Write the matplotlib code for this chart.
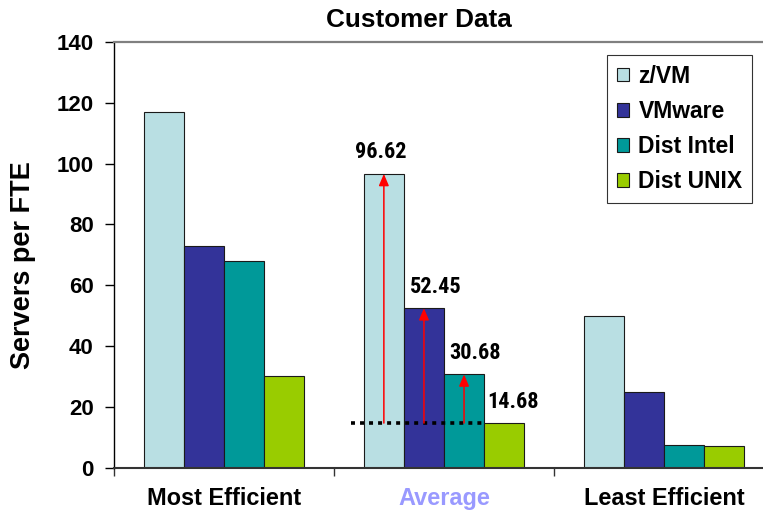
import matplotlib
matplotlib.use("Agg")
import matplotlib.pyplot as plt
from matplotlib.patches import FancyArrowPatch, Patch
from matplotlib import font_manager
import numpy as np

plt.rcParams['font.family'] = ['Liberation Sans', 'DejaVu Sans']
plt.rcParams['font.weight'] = 'bold'

categories = ["Most Efficient", "Average", "Least Efficient"]
series = ["z/VM", "VMware", "Dist Intel", "Dist UNIX"]
zvm = [117, 96.62, 50]
vmware = [73, 52.45, 25]
dist_intel = [68, 30.68, 7.5]
dist_unix = [30, 14.68, 7]
values = [zvm, vmware, dist_intel, dist_unix]
colors = ["#B9DFE3", "#333399", "#009999", "#99CC00"]
yticks = [0, 20, 40, 60, 80, 100, 120, 140]

# pick a condensed font for the value labels if one is installed
names = {f.name for f in font_manager.fontManager.ttflist}
narrow_fam = None
for cand in ["Liberation Sans Narrow", "DejaVu Sans Condensed", "Roboto Condensed",
             "Open Sans Condensed"]:
    if cand in names:
        narrow_fam = cand
        break

W, H = 763, 512
fig = plt.figure(figsize=(W / 100, H / 100), dpi=100)
ax = fig.add_axes([114 / W, 44.3 / H, 660 / W, 425.7 / H])

bw = 40 / 219.5
offsets = (np.arange(4) - 1.5) * bw
x = np.arange(len(categories))
for i, s in enumerate(series):
    ax.bar(x + offsets[i], values[i], width=bw, color=colors[i],
           edgecolor="#1a1a1a", linewidth=0.8, label=s, zorder=2)

ax.set_xlim(-0.5, 2.5)
ax.set_ylim(0, 140)
ax.set_yticks(yticks)
ax.set_yticklabels([str(v) for v in yticks], fontsize=16, fontweight='bold')
ax.set_xticks(x)
ax.set_xticklabels(categories, fontsize=16.9, fontweight='bold')
ax.get_xticklabels()[1].set_color("#9999FF")
ax.set_xticks([-0.5, 0.5, 1.5, 2.5], minor=True)
ax.tick_params(axis='x', which='major', length=0, pad=14)
ax.tick_params(axis='x', which='minor', length=6, width=1, color="#333333", direction='out')
ax.tick_params(axis='y', which='major', length=6.5, width=1, direction='out', pad=8)

ax.spines['right'].set_visible(False)
ax.spines['top'].set_color("#808080")
ax.spines['top'].set_linewidth(1.6)
ax.spines['bottom'].set_color("#333333")
ax.spines['bottom'].set_linewidth(1.5)
ax.spines['left'].set_color("black")
ax.spines['left'].set_linewidth(1.0)

# Average group annotations
avg = 1
base = dist_unix[avg]
ax.plot([avg - 0.425, avg + offsets[3] - bw / 2], [base, base], color="black",
        linewidth=2.6, linestyle=(0, (1.1, 1.4)), zorder=4)
for i in range(3):
    xc = avg + offsets[i]
    arr = FancyArrowPatch((xc, base), (xc, values[i][avg]),
                          arrowstyle='-|>,head_length=0.7,head_width=0.3',
                          mutation_scale=10, color="#FF0000", linewidth=1.1,
                          shrinkA=0, shrinkB=0, zorder=5)
    ax.add_patch(arr)

label_dx = [-2, 8.5, 8, 6.5]
if narrow_fam:
    lab_kw = dict(family=[narrow_fam, 'DejaVu Sans'])
else:
    lab_kw = dict(family=['DejaVu Sans'], fontstretch='condensed')
for i in range(4):
    xc = avg + offsets[i]
    v = values[i][avg]
    ax.annotate(f"{v:.2f}", (xc, v), xytext=(label_dx[i], 7.5), textcoords='offset points',
                ha='center', va='bottom', fontsize=16, fontweight='bold', zorder=6, **lab_kw)

handles = [Patch(facecolor=c, edgecolor="#1a1a1a", linewidth=0.8) for c in colors]
leg = ax.legend(handles, series, loc='upper left',
                bbox_to_anchor=(607 / W, 1 - 55 / H), bbox_transform=fig.transFigure,
                prop={'size': 16.5, 'weight': 'bold'}, frameon=True, fancybox=False,
                shadow=False, borderpad=0.42, handlelength=0.55, handleheight=0.55,
                handletextpad=0.4, labelspacing=0.53, borderaxespad=0)
leg.get_frame().set_edgecolor("black")
leg.get_frame().set_linewidth(0.8)

fig.text(419 / W, 1 - 20 / H, "Customer Data", ha='center', va='center',
         fontsize=18.8, fontweight='bold')
fig.text(23 / W, 1 - 265 / H, "Servers per FTE", ha='center', va='center',
         rotation=90, fontsize=19.5, fontweight='bold')

fig.savefig("out.png", dpi=100)
